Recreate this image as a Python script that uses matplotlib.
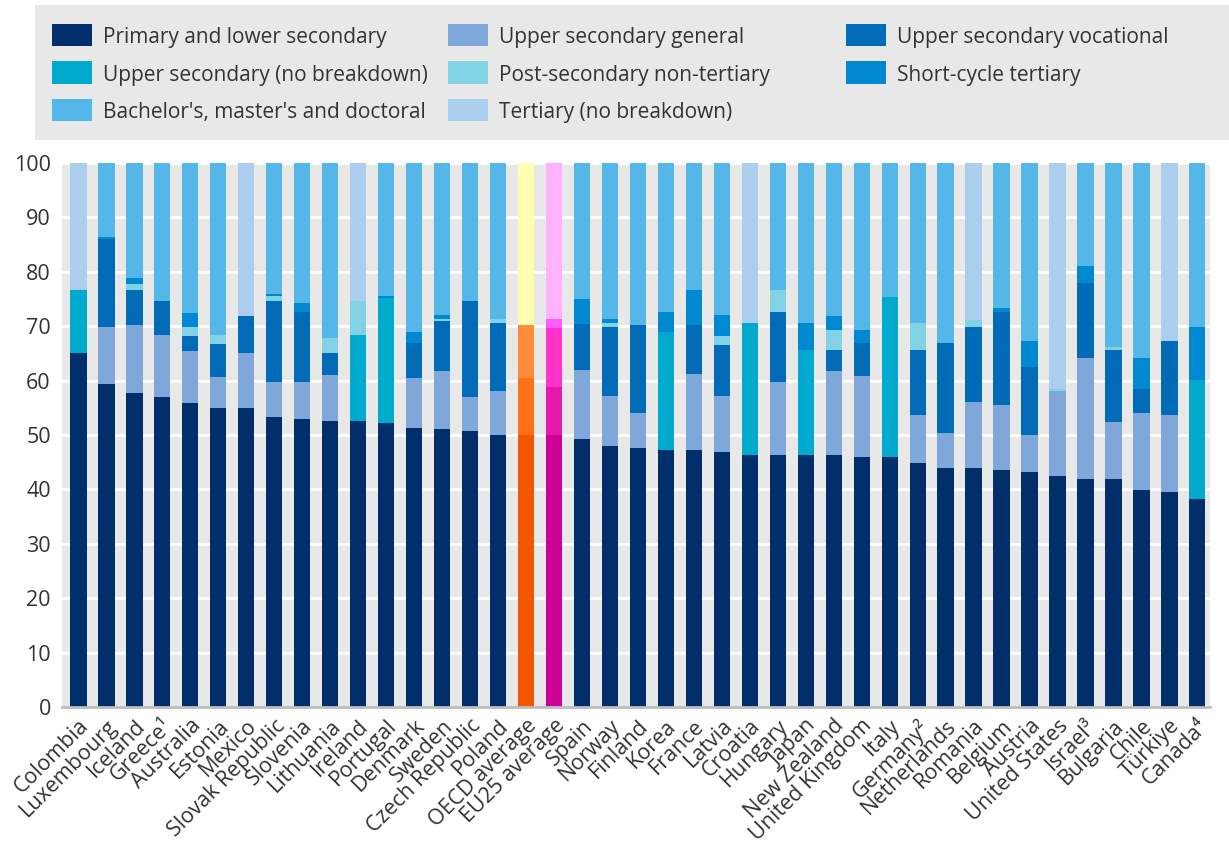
import numpy as np
import matplotlib
matplotlib.use('Agg')
import matplotlib.pyplot as plt
from matplotlib.patches import Rectangle

plt.rcParams['font.family'] = ['Open Sans', 'DejaVu Sans']

countries = ['Colombia', 'Luxembourg', 'Iceland', 'Greece\u00b9', 'Australia',
             'Estonia', 'Mexico', 'Slovak Republic', 'Slovenia', 'Lithuania',
             'Ireland', 'Portugal', 'Denmark', 'Sweden', 'Czech Republic',
             'Poland', 'OECD average', 'EU25 average', 'Spain', 'Norway',
             'Finland', 'Korea', 'France', 'Latvia', 'Croatia', 'Hungary',
             'Japan', 'New Zealand', 'United Kingdom', 'Italy', 'Germany\u00b2',
             'Netherlands', 'Romania', 'Belgium', 'Austria', 'United States',
             'Israel\u00b3', 'Bulgaria', 'Chile', 'T\u00fcrkiye', 'Canada\u2074']

primary_lower = [65.0, 59.4, 57.8, 57.0, 55.8, 55.0, 55.0, 53.4, 53.0, 52.5,
                 52.5, 52.2, 51.3, 51.2, 50.8, 50.0, 50.0, 50.0, 49.2, 48.0,
                 47.6, 47.2, 47.2, 46.8, 46.4, 46.4, 46.4, 46.4, 46.0, 46.0,
                 44.8, 43.9, 43.9, 43.6, 43.2, 42.4, 41.9, 41.9, 39.9, 39.5,
                 38.3]
upper_general = [0, 10.4, 12.5, 11.3, 9.6, 5.6, 10.0, 6.4, 6.8, 8.5,
                 0, 0, 9.2, 10.5, 6.1, 8.1, 10.5, 8.9, 12.8, 9.2,
                 6.4, 0, 14.0, 10.4, 0, 13.3, 0, 15.3, 14.9, 0,
                 8.8, 6.5, 12.2, 12.0, 6.8, 15.7, 22.2, 10.5, 14.1, 14.1,
                 0]
upper_vocational = [0, 16.2, 6.4, 6.4, 2.8, 6.1, 6.9, 14.9, 12.9, 4.0,
                    0, 0, 6.4, 9.3, 17.7, 12.5, 9.7, 10.8, 8.5, 12.6,
                    16.2, 0, 9.0, 9.3, 0, 12.9, 0, 4.0, 6.0, 0,
                    12.1, 16.6, 13.7, 17.0, 12.5, 0, 13.8, 13.3, 4.4, 13.7,
                    0]
upper_nobreak = [11.7, 0, 0, 0, 0, 0, 0, 0, 0, 0,
                 15.8, 22.9, 0, 0, 0, 0, 0, 0, 0, 0,
                 0, 21.7, 0, 0, 24.2, 0, 19.3, 0, 0, 29.4,
                 0, 0, 0, 0, 0, 0, 0, 0, 0, 0,
                 21.8]
post_secondary = [0, 0, 1.1, 0, 1.7, 1.6, 0, 0.8, 0, 2.8,
                  6.4, 0, 0, 0.3, 0, 0.8, 0, 1.6, 0, 0.8,
                  0, 0, 0, 1.7, 0, 4.1, 0, 3.6, 0, 0,
                  4.9, 0, 1.3, 0, 0, 0.4, 0, 0.4, 0, 0,
                  0]
short_cycle = [0, 0.4, 1.0, 0, 2.5, 0, 0, 0.5, 1.6, 0,
               0, 0.4, 2.1, 0.8, 0, 0, 0, 0, 4.5, 0.8,
               0, 3.7, 6.4, 3.9, 0, 0, 4.9, 2.5, 2.4, 0,
               0, 0, 0, 0.8, 4.8, 0, 3.2, 0, 5.7, 0,
               9.7]
bachelor_plus = [0, 13.6, 21.2, 25.3, 27.6, 31.7, 0, 24.0, 25.7, 32.2,
                 0, 24.5, 31.0, 27.9, 25.4, 28.6, 29.8, 28.7, 25.0, 28.6,
                 29.8, 27.4, 23.4, 27.9, 0, 23.3, 29.4, 28.2, 30.7, 24.6,
                 29.4, 33.0, 0, 26.6, 32.7, 0, 18.9, 33.9, 35.9, 0,
                 30.2]
tertiary_nobreak = [23.3, 0, 0, 0, 0, 0, 28.1, 0, 0, 0,
                    25.3, 0, 0, 0, 0, 0, 0, 0, 0, 0,
                    0, 0, 0, 0, 29.4, 0, 0, 0, 0, 0,
                    0, 0, 28.9, 0, 0, 41.5, 0, 0, 0, 32.7,
                    0]

series = [
    ('Primary and lower secondary', primary_lower, '#002F6C'),
    ('Upper secondary general', upper_general, '#7FA7D9'),
    ('Upper secondary vocational', upper_vocational, '#006BB6'),
    ('Upper secondary (no breakdown)', upper_nobreak, '#00AACC'),
    ('Post-secondary non-tertiary', post_secondary, '#81D2E3'),
    ('Short-cycle tertiary', short_cycle, '#0088D1'),
    ("Bachelor's, master's and doctoral", bachelor_plus, '#55B7E8'),
    ('Tertiary (no breakdown)', tertiary_nobreak, '#ABCDEE'),
]

# highlighted averages get their own shades, one per series
avg_colors = {
    'OECD average': ['#F25700', '#FF701A', '#FF8C3A', '#FFA060',
                     '#FFC080', '#FFD090', '#FFFFB3', '#FFFFB3'],
    'EU25 average': ['#CC0099', '#E619AA', '#FF33CC', '#FF44DD',
                     '#FF5CFF', '#FF80FF', '#FFB3FF', '#FFB3FF'],
}

W, H = 1229, 843
fig = plt.figure(figsize=(W / 100, H / 100), dpi=100)
ax = fig.add_axes([0.0504, 0.1613, 0.9341, 0.6453])
ax.set_facecolor('#E8E8E8')

x = np.arange(len(countries))
bottom = np.zeros(len(countries))
for k, (name, vals, color) in enumerate(series):
    vals = np.array(vals, dtype=float)
    colors = [avg_colors[c][k] if c in avg_colors else color for c in countries]
    ax.bar(x, vals, 0.58, bottom=bottom, color=colors, linewidth=0)
    bottom += vals

ax.set_ylim(0, 100)
ax.set_xlim(-0.59, 40.45)
ax.set_yticks(np.arange(0, 101, 10))
ax.yaxis.grid(True, color='white', linewidth=2)
ax.set_axisbelow(True)
for s in ['top', 'right', 'left']:
    ax.spines[s].set_visible(False)
ax.spines['bottom'].set_color('#BDBDBD')
ax.spines['bottom'].set_linewidth(2)
ax.tick_params(axis='both', length=0, labelsize=15.5, colors='#333333')
ax.tick_params(axis='y', pad=8)
ax.set_xticks(x)
ax.set_xticklabels(countries, rotation=45, ha='right', rotation_mode='anchor')
ax.tick_params(axis='x', pad=6)

# legend panel, laid out as an even 3-column grid
fig.patches.append(Rectangle((35 / W, 1 - 140 / H), 1 - 35 / W, 135 / H,
                             transform=fig.transFigure, facecolor='#E8E8E8',
                             edgecolor='none', zorder=0))
col_x = [52, 448, 846]
row_y = [24, 61.5, 99]
for pos, (name, vals, color) in enumerate(series):
    cx = col_x[pos % 3]
    ry = row_y[pos // 3]
    fig.patches.append(Rectangle((cx / W, 1 - (ry + 22) / H), 40 / W, 22 / H,
                                 transform=fig.transFigure, facecolor=color,
                                 edgecolor='none', zorder=1))
    fig.text((cx + 51) / W, 1 - (ry + 13.5) / H, name, fontsize=15,
             color='#333333', va='center', ha='left')

fig.savefig('out.png', dpi=100)
